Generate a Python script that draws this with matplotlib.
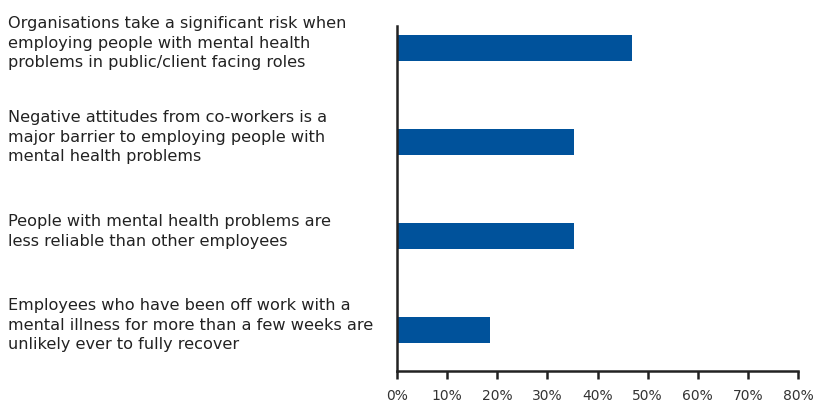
import matplotlib.pyplot as plt
from matplotlib.transforms import blended_transform_factory

# statements, top to bottom
labels = [
    "Organisations take a significant risk when\nemploying people with mental health\nproblems in public/client facing roles",
    "Negative attitudes from co-workers is a\nmajor barrier to employing people with\nmental health problems",
    "People with mental health problems are\nless reliable than other employees",
    "Employees who have been off work with a\nmental illness for more than a few weeks are\nunlikely ever to fully recover",
]
values = [46.9, 35.4, 35.4, 18.6]
ticks = [0, 10, 20, 30, 40, 50, 60, 70, 80]

plt.rcParams['font.family'] = ['DejaVu Sans']

fig = plt.figure(figsize=(8.14, 4.05), dpi=100)
ax = fig.add_axes([397 / 814, 1 - 371 / 405, 401 / 814, 345 / 405])

ypos = list(range(len(values)))
ax.barh(ypos, values, height=0.28, color='#00529b', zorder=2)

ax.set_xlim(0, 80)
ax.set_ylim(3.436, -0.234)
ax.set_xticks(ticks)
ax.set_xticklabels([f"{t}%" for t in ticks], fontsize=10, color='#333333')
ax.set_yticks([])

for s in ['top', 'right']:
    ax.spines[s].set_visible(False)
for s in ['left', 'bottom']:
    ax.spines[s].set_color('#222222')
    ax.spines[s].set_linewidth(1.8)
ax.tick_params(axis='x', direction='out', length=6, width=1.8, color='#222222', pad=7)

trans = blended_transform_factory(fig.transFigure, ax.transData)
for y, lab in zip(ypos, labels):
    ax.text(8 / 814, y - 0.05, lab, transform=trans, ha='left', va='center',
            fontsize=11.6, color='#222222', linespacing=1.38)

fig.savefig('out.png', dpi=100)
